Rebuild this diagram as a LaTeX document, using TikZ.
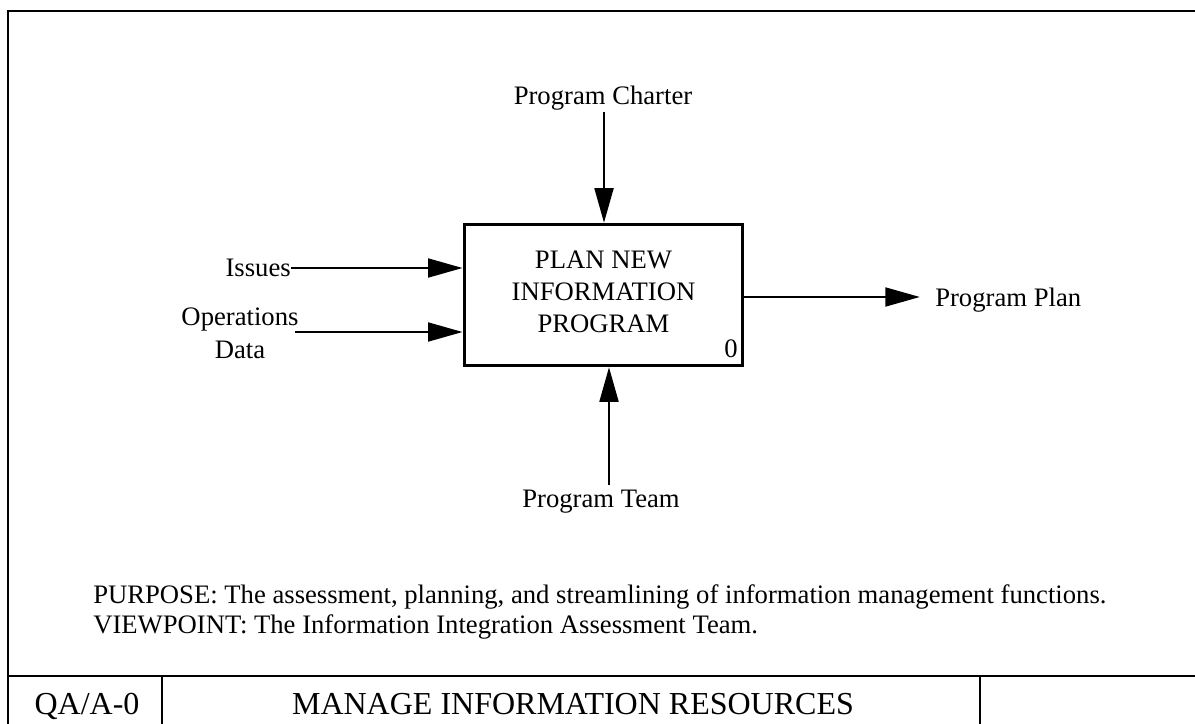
\documentclass[tikz,border=0pt]{standalone}
\usepackage{fontspec}
\setmainfont{Liberation Serif}
\usetikzlibrary{arrows.meta,calc}
\begin{document}
\begin{tikzpicture}[x=0.75pt,y=-0.75pt,
  lbl/.style={inner sep=0pt,font=\fontsize{20}{24}\selectfont},
  big/.style={inner sep=0pt,font=\fontsize{24}{28}\selectfont},
  flow/.style={line width=2.2pt,-{Triangle[length=26pt,width=14pt]}},
  frameline/.style={line width=2.2pt},
  actbox/.style={draw,line width=2.2pt,minimum width=209pt,minimum height=106pt,inner sep=0pt}]
\clip (0,0) rectangle (1195,724);
\fill[white] (0,0) rectangle (1195,724);
% frame
\draw[frameline] (8,740) -- (8,11) -- (1210,11);
\draw[frameline] (8,676) -- (1210,676);
\draw[frameline] (162,676) -- (162,740);
\draw[frameline] (980,676) -- (980,740);
% activity box
\node[actbox] (box) at (603.5,295) {};
\node[lbl,align=center,font=\fontsize{20}{24}\selectfont] (boxtxt) at (603.5,292) {PLAN NEW\\INFORMATION\\PROGRAM};
\node[lbl,anchor=base east] (num) at (738,357) {0};
% labels
\node[lbl] (charter) at (603,98) {Program Charter};
\node[lbl,anchor=east] (issues) at (291,268) {Issues};
\node[lbl,align=center,font=\fontsize{20}{25}\selectfont] (ops) at (240,333) {Operations\\Data};
\node[lbl,anchor=west] (plan) at (935,300) {Program Plan};
\node[lbl] (team) at (601,502) {Program Team};
% connector ends
\coordinate (ctop) at (604,112);
\coordinate (opsend) at (295,332);
\coordinate (pout) at (920,297);
\coordinate (tbot) at (609,485);
% arrows
\draw[flow] (ctop) -- (ctop |- box.north);
\draw[flow] (issues.east) -- (issues.east -| box.west);
\draw[flow] (opsend) -- (opsend -| box.west);
\draw[flow] (pout -| box.east) -- (pout);
\draw[flow] (tbot) -- (tbot |- box.south);
% purpose
\node[lbl,anchor=base west] (purpose) at (93,603) {PURPOSE: The assessment, planning, and streamlining of information management functions.};
\node[lbl,anchor=base west] (viewpoint) at (93,633) {VIEWPOINT: The Information Integration Assessment Team.};
% title bar
\node[big,anchor=base] (node) at (87,714) {QA/A-0};
\node[big,anchor=base] (title) at (573,714) {MANAGE INFORMATION RESOURCES};
\end{tikzpicture}
\end{document}
